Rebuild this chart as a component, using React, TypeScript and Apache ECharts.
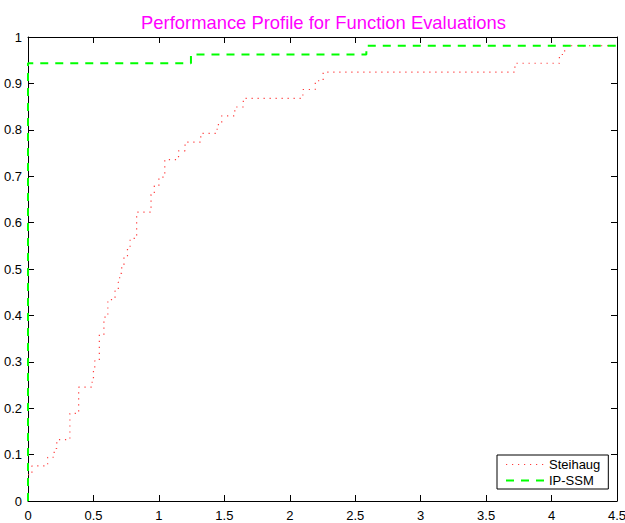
import React, { useEffect, useRef } from "react";
import * as echarts from "echarts";

const titleText = "Performance Profile for Function Evaluations";
const seriesNames = ["Steihaug", "IP-SSM"];

const xTickLabels = ["0", "0.5", "1", "1.5", "2", "2.5", "3", "3.5", "4", "4.5"];
const yTickLabels = ["0", "0.1", "0.2", "0.3", "0.4", "0.5", "0.6", "0.7", "0.8", "0.9", "1"];

const steihaugX = [0, 0.03, 0.15, 0.2, 0.22, 0.32, 0.387, 0.49, 0.5, 0.51, 0.545, 0.58, 0.61, 0.665, 0.69, 0.7, 0.716, 0.733, 0.76, 0.78, 0.83, 0.94, 0.965, 1.0, 1.045, 1.15, 1.2, 1.32, 1.445, 1.48, 1.58, 1.645, 2.1, 2.195, 2.255, 3.72, 4.06, 4.1, 4.5];
const steihaugY = [0.0566, 0.0755, 0.0943, 0.1132, 0.1321, 0.1887, 0.2453, 0.2642, 0.283, 0.3019, 0.3585, 0.3962, 0.434, 0.4528, 0.4717, 0.4906, 0.5094, 0.5283, 0.5472, 0.566, 0.6226, 0.6604, 0.6792, 0.6981, 0.7358, 0.7547, 0.7736, 0.7925, 0.8113, 0.8302, 0.8491, 0.8679, 0.8868, 0.9057, 0.9245, 0.9434, 0.9623, 0.9811, 0.9811];

const ipssmX = [0, 0, 1.245, 2.585, 4.5];
const ipssmY = [0, 0.9434, 0.9623, 0.9811, 0.9811];

const FONT = "'Liberation Sans', Arial, Helvetica, sans-serif";
const RED = "rgb(255,60,60)";
const GREEN = "#00ff00";

export default function App() {
  const ref = useRef<HTMLDivElement>(null);
  useEffect(() => {
    if (!ref.current) return;
    const chart = echarts.init(ref.current, null, { renderer: "svg" });
    const axisLine = { show: true, onZero: false, lineStyle: { color: "#000", width: 1 } };
    const axisTick = { show: true, inside: true, length: 6, lineStyle: { color: "#000", width: 1 } };
    const xBase = { type: "value", min: 0, max: 4.5, interval: 0.5, splitLine: { show: false }, axisLine, axisTick };
    const yBase = { type: "value", min: 0, max: 1, interval: 0.1, splitLine: { show: false }, axisLine, axisTick };
    const hiddenSymbol = { color: "rgba(0,0,0,0)", borderWidth: 0, opacity: 0 };
    chart.setOption({
      animation: false,
      backgroundColor: "#fff",
      graphic: [
        {
          type: "text",
          x: 323.5,
          y: 22,
          style: {
            text: titleText,
            fill: "#ff00ff",
            fontSize: 18.4,
            fontFamily: FONT,
            align: "center",
            verticalAlign: "middle",
          },
        },
      ],
      grid: { left: 28, right: 8, top: 37, bottom: 22, outerBoundsMode: "none" },
      xAxis: [
        {
          ...xBase,
          position: "bottom",
          axisLabel: {
            color: "#000",
            fontSize: 13,
            fontFamily: FONT,
            margin: 8,
            formatter: (_v: number, i: number) => xTickLabels[i],
          },
        },
        { ...xBase, position: "top", axisLabel: { show: false } },
      ],
      yAxis: [
        {
          ...yBase,
          position: "left",
          axisLabel: {
            color: "#000",
            fontSize: 13,
            fontFamily: FONT,
            margin: 6,
            formatter: (_v: number, i: number) => yTickLabels[i],
          },
        },
        { ...yBase, position: "right", axisLabel: { show: false } },
      ],
      legend: {
        orient: "vertical",
        left: 497,
        top: 455,
        padding: [3, 8, 2, 8],
        itemWidth: 38,
        itemHeight: 14,
        itemGap: 3,
        borderColor: "#000",
        borderWidth: 1,
        borderRadius: 0,
        backgroundColor: "#fff",
        textStyle: { color: "#000", fontSize: 13, fontFamily: FONT },
        data: [
          { name: seriesNames[0], lineStyle: { width: 1.2 }, itemStyle: hiddenSymbol },
          { name: seriesNames[1], lineStyle: { width: 2 }, itemStyle: hiddenSymbol },
        ],
      },
      series: [
        {
          name: seriesNames[0],
          type: "line",
          step: "end",
          symbol: "none",
          showSymbol: false,
          clip: false,
          data: steihaugX.map((x, i) => [x, steihaugY[i]]),
          lineStyle: { color: RED, width: 1.2, type: [1.2, 4.8] },
          itemStyle: { color: RED },
          z: 3,
        },
        {
          name: seriesNames[1],
          type: "line",
          step: "end",
          symbol: "none",
          showSymbol: false,
          clip: false,
          data: ipssmX.map((x, i) => [x, ipssmY[i]]),
          lineStyle: { color: GREEN, width: 2, type: [8, 7] },
          itemStyle: { color: GREEN },
          z: 4,
        },
      ],
    });
    return () => chart.dispose();
  }, []);
  return (
    <div
      ref={ref}
      style={{ position: "fixed", left: 0, top: 0, width: 625, height: 523, background: "#fff" }}
    />
  );
}
